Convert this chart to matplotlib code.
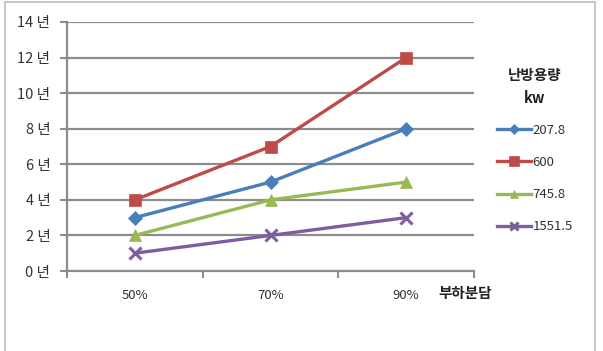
import matplotlib.pyplot as plt
from matplotlib.patches import Rectangle

plt.rcParams['font.family'] = ['Noto Sans CJK KR', 'DejaVu Sans']

categories = ['50%', '70%', '90%']
capacities = ['207.8', '600', '745.8', '1551.5']
years_207 = [3, 5, 8]
years_600 = [4, 7, 12]
years_745 = [2, 4, 5]
years_1551 = [1, 2, 3]
y_ticks = [0, 2, 4, 6, 8, 10, 12, 14]

series = [years_207, years_600, years_745, years_1551]
colors = ['#4A7EBB', '#BE4B48', '#98B954', '#7D5FA0']
markers = ['D', 's', '^', 'x']
msizes = [7, 9, 8, 8]

fig = plt.figure(figsize=(6.03, 3.51), dpi=100)
fig.patches.append(Rectangle((5 / 603, -0.1), 590 / 603, 1.1 - 2 / 351,
                             transform=fig.transFigure, fill=False,
                             edgecolor='#BDBDBD', linewidth=1.2))

ax = fig.add_axes([67 / 603, 1 - 271 / 351, 407 / 603, 249 / 351])
x = range(len(categories))
lines = []
for vals, c, m, ms, lab in zip(series, colors, markers, msizes, capacities):
    ln, = ax.plot(x, vals, color=c, marker=m, markersize=ms, linewidth=2.4,
                  markeredgewidth=2.2 if m == 'x' else 0.5, markeredgecolor=c,
                  label=lab, zorder=3)
    lines.append(ln)

ax.set_xlim(-0.5, 2.5)
ax.set_ylim(0, 14)
ax.set_yticks(y_ticks)
ax.set_yticklabels([f'{v} 년' for v in y_ticks], fontsize=10.5, color='#333333')
ax.set_xticks([-0.5, 0.5, 1.5, 2.5])
ax.set_xticklabels([])
ax.set_xticks(list(x), minor=True)
ax.set_xticklabels(categories, minor=True, fontsize=9.5, color='#333333')
ax.tick_params(axis='x', which='minor', length=0, pad=13)
ax.tick_params(axis='both', which='major', direction='out', length=5,
               width=1.5, color='#8C8C8C')
ax.tick_params(axis='y', pad=7)
ax.grid(axis='y', color='#8C8C8C', linewidth=1.6, zorder=0)
ax.set_axisbelow(True)
for s in ['top', 'right']:
    ax.spines[s].set_visible(False)
for s in ['left', 'bottom']:
    ax.spines[s].set_color('#8C8C8C')
    ax.spines[s].set_linewidth(1.6)

fig.text(438 / 603, 1 - 293 / 351, '부하분담', fontsize=10.5, fontweight='bold',
         color='#222222', ha='left', va='center')

# legend title
fig.text(535 / 603, 1 - 75 / 351, '난방용량', fontsize=10.5, fontweight='bold',
         color='#222222', ha='center', va='center')
fig.text(535 / 603, 1 - 98 / 351, 'kw', fontsize=10.5, fontweight='bold',
         color='#222222', ha='center', va='center')

leg = fig.legend(handles=lines, loc='upper left',
                 bbox_to_anchor=(485 / 603, 1 - 112 / 351),
                 frameon=False, fontsize=9.5, markerscale=0.8,
                 handlelength=2.6, handletextpad=0.1, labelspacing=1.45)
for t in leg.get_texts():
    t.set_color('#333333')

fig.savefig('out.png', dpi=100)
